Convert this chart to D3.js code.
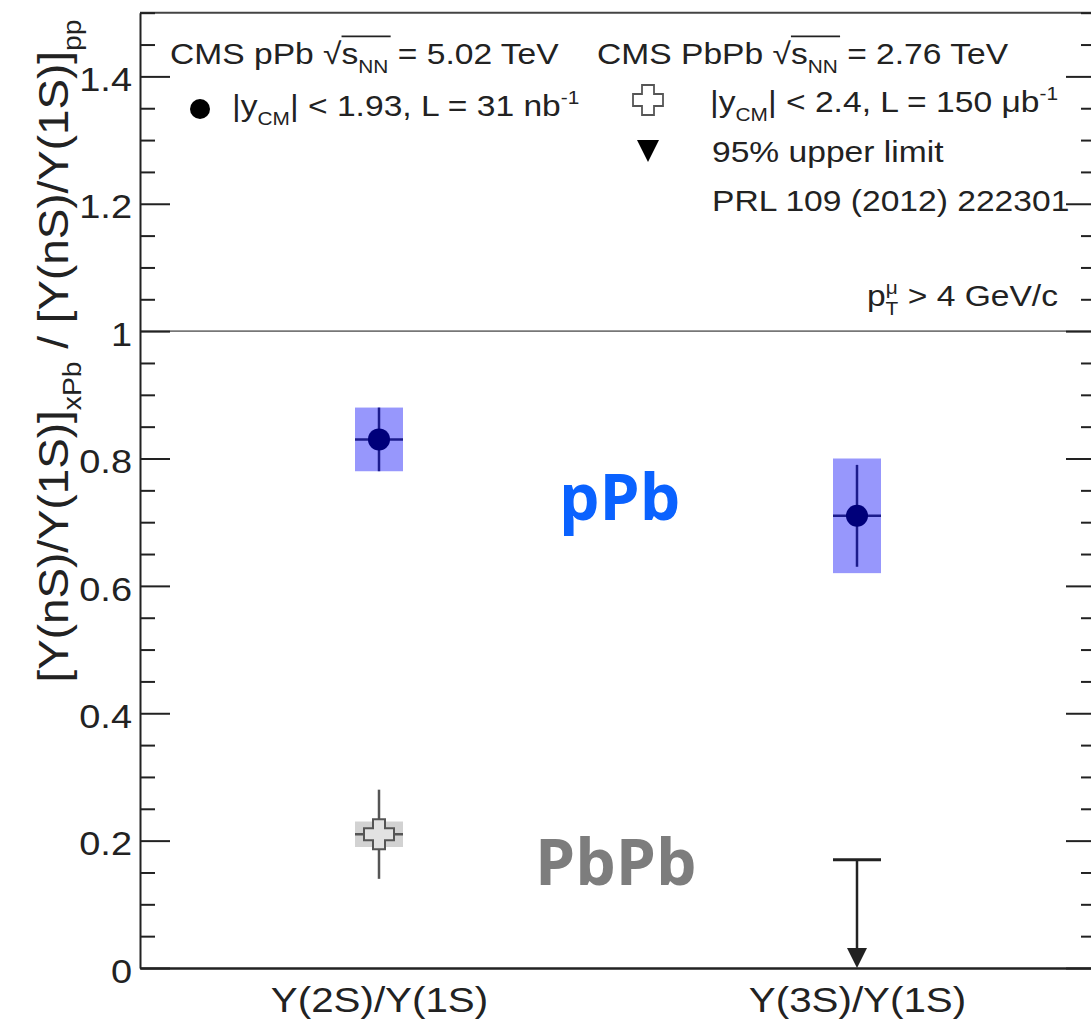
<!DOCTYPE html>
<html><head><meta charset="utf-8">
<script src="https://cdn.jsdelivr.net/npm/d3@7"></script>
<style>
body{margin:0;background:#fff}
svg{display:block}
text{font-family:"Liberation Sans", Arial, Helvetica, sans-serif}
</style>
</head><body>
<svg id="c" width="1091" height="1023"></svg>
<script>
// ---------------- data ----------------
const categories = ["\u03A5(2S)/\u03A5(1S)", "\u03A5(3S)/\u03A5(1S)"];
const pPbValues   = [0.83, 0.71];
const pPbStatErr  = [0.05, 0.08];
const pPbSystErr  = [0.05, 0.09];
const PbPbValues  = [0.21, null];
const PbPbStatErr = [0.07, null];
const PbPbSystErr = [0.02, null];
const PbPbUpperLimit = [null, 0.17];
const yMajorTicks = [0, 0.2, 0.4, 0.6, 0.8, 1, 1.2, 1.4];
const yTickLabels = ["0", "0.2", "0.4", "0.6", "0.8", "1", "1.2", "1.4"];
const yMinorStep = 0.05;
const yMax = 1.5;
const referenceLine = 1;

// ---------------- layout ----------------
const L = 140, R = 1096, T = 12.7, B = 968;
const svg = d3.select("#c");
const y = d3.scaleLinear().domain([0, yMax]).range([B, T]);
const x = d3.scalePoint().domain(categories).range([L, R]).padding(0.5);
const yMinorTicks = d3.range(0, yMax + 1e-9, yMinorStep).filter(v => !yMajorTicks.some(m => Math.abs(m - v) < 1e-6));
const ink = "#222";

// rich text helper
function rich(parent, px, py, segs, opt) {
  const size = opt.size;
  let tr = `translate(${px},${py})`;
  if (opt.rotate) tr += ` rotate(${opt.rotate})`;
  tr += ` scale(${opt.sx || 1},${opt.sy || 1})`;
  const g = parent.append("g").attr("transform", tr);
  const t = g.append("text").attr("font-size", size).attr("fill", opt.fill || ink)
    .attr("text-anchor", opt.anchor || "start");
  let shift = 0;
  const ols = [];
  segs.forEach(s => {
    const seg = typeof s === "string" ? {t: s} : s;
    const target = seg.k === "sub" ? 0.3 * size : seg.k === "sup" ? -0.4 * size : 0;
    const fs = seg.k ? 0.62 * size : size;
    const ts = t.append("tspan").attr("font-size", fs).attr("dy", target - shift).text(seg.t);
    if (seg.dx) ts.attr("dx", seg.dx * size);
    if (seg.ol) ols.push(ts.node());
    shift = target;
  });
  if (ols.length) {
    const a = ols[0], b = ols[ols.length - 1];
    const x0 = a.getStartPositionOfChar(0).x;
    const x1 = b.getEndPositionOfChar(b.getNumberOfChars() - 1).x;
    g.append("line").attr("x1", x0).attr("x2", x1 + 2)
      .attr("y1", -0.92 * size).attr("y2", -0.92 * size)
      .attr("stroke", opt.fill || ink).attr("stroke-width", 1.6);
  }
  return g;
}

// ---------------- frame & axes ----------------
svg.append("line").attr("x1", L).attr("x2", R).attr("y1", T).attr("y2", T)
  .attr("stroke", "#444").attr("stroke-width", 2);

svg.append("line").attr("x1", L).attr("x2", R).attr("y1", y(referenceLine)).attr("y2", y(referenceLine))
  .attr("stroke", "#777").attr("stroke-width", 1.6);

const leftMajor = svg.append("g").attr("transform", `translate(${L},0)`)
  .call(d3.axisLeft(y).tickValues(yMajorTicks).tickSize(-30).tickSizeOuter(0).tickPadding(8)
    .tickFormat((d, i) => yTickLabels[i]));
leftMajor.select(".domain").attr("stroke", ink).attr("stroke-width", 2);
leftMajor.selectAll(".tick line").attr("stroke", ink).attr("stroke-width", 2);
leftMajor.selectAll(".tick text").attr("font-size", 33).attr("fill", ink)
  .attr("x", -8 / 1.15).attr("dy", "0.43em").attr("transform", "scale(1.15,1)");

const leftMinor = svg.append("g").attr("transform", `translate(${L},0)`)
  .call(d3.axisLeft(y).tickValues(yMinorTicks).tickSize(-15).tickSizeOuter(0).tickFormat(""));
leftMinor.select(".domain").remove();
leftMinor.selectAll(".tick line").attr("stroke", ink).attr("stroke-width", 2);

const rightMajor = svg.append("g").attr("transform", `translate(${R},0)`)
  .call(d3.axisRight(y).tickValues(yMajorTicks).tickSize(-30).tickSizeOuter(0).tickFormat(""));
rightMajor.select(".domain").attr("stroke", ink).attr("stroke-width", 2);
rightMajor.selectAll(".tick line").attr("stroke", ink).attr("stroke-width", 2);
const rightMinor = svg.append("g").attr("transform", `translate(${R},0)`)
  .call(d3.axisRight(y).tickValues(yMinorTicks).tickSize(-15).tickSizeOuter(0).tickFormat(""));
rightMinor.select(".domain").remove();
rightMinor.selectAll(".tick line").attr("stroke", ink).attr("stroke-width", 2);

const bottom = svg.append("g").attr("transform", `translate(0,${B})`)
  .call(d3.axisBottom(x).tickSize(0).tickSizeOuter(0).tickPadding(18));
bottom.select(".domain").attr("stroke", ink).attr("stroke-width", 2.5);
bottom.selectAll(".tick text").attr("font-size", 36).attr("fill", ink)
  .attr("transform", "scale(1.12,1)");

// y axis title
rich(svg, 68, 351, [
  "[\u03A5(nS)/\u03A5(1S)]", {t: "xPb", k: "sub"}, {t: " / [\u03A5(nS)/\u03A5(1S)]"}, {t: "pp", k: "sub"}
], {size: 42, rotate: -90, anchor: "middle", sx: 1.09, sy: 1.0});

// ---------------- data marks ----------------
const hw = 24;
const pPbIdx = d3.range(categories.length).filter(i => pPbValues[i] != null);
const gp = svg.append("g");
gp.selectAll("rect.syst").data(pPbIdx).join("rect")
  .attr("x", i => x(categories[i]) - hw).attr("width", 2 * hw)
  .attr("y", i => y(pPbValues[i] + pPbSystErr[i]))
  .attr("height", i => y(pPbValues[i] - pPbSystErr[i]) - y(pPbValues[i] + pPbSystErr[i]))
  .attr("fill", "#9797fc");
gp.selectAll("line.v").data(pPbIdx).join("line")
  .attr("x1", i => x(categories[i])).attr("x2", i => x(categories[i]))
  .attr("y1", i => y(pPbValues[i] - pPbStatErr[i])).attr("y2", i => y(pPbValues[i] + pPbStatErr[i]))
  .attr("stroke", "#1c1c8c").attr("stroke-width", 2.5);
gp.selectAll("line.h").data(pPbIdx).join("line")
  .attr("x1", i => x(categories[i]) - hw).attr("x2", i => x(categories[i]) + hw)
  .attr("y1", i => y(pPbValues[i])).attr("y2", i => y(pPbValues[i]))
  .attr("stroke", "#1c1c8c").attr("stroke-width", 2.5);
gp.selectAll("circle").data(pPbIdx).join("circle")
  .attr("cx", i => x(categories[i])).attr("cy", i => y(pPbValues[i])).attr("r", 11)
  .attr("fill", "#00007a");

const crossPath = (a, w) => `M${-w},${-a}H${w}V${-w}H${a}V${w}H${w}V${a}H${-w}V${w}H${-a}V${-w}H${-w}Z`;

const PbIdx = d3.range(categories.length).filter(i => PbPbValues[i] != null);
const gb = svg.append("g");
gb.selectAll("rect").data(PbIdx).join("rect")
  .attr("x", i => x(categories[i]) - hw).attr("width", 2 * hw)
  .attr("y", i => y(PbPbValues[i] + PbPbSystErr[i]))
  .attr("height", i => y(PbPbValues[i] - PbPbSystErr[i]) - y(PbPbValues[i] + PbPbSystErr[i]))
  .attr("fill", "#d2d2d2");
gb.selectAll("line.v").data(PbIdx).join("line")
  .attr("x1", i => x(categories[i])).attr("x2", i => x(categories[i]))
  .attr("y1", i => y(PbPbValues[i] - PbPbStatErr[i])).attr("y2", i => y(PbPbValues[i] + PbPbStatErr[i]))
  .attr("stroke", "#555").attr("stroke-width", 2.5);
gb.selectAll("line.h").data(PbIdx).join("line")
  .attr("x1", i => x(categories[i]) - hw).attr("x2", i => x(categories[i]) + hw)
  .attr("y1", i => y(PbPbValues[i])).attr("y2", i => y(PbPbValues[i]))
  .attr("stroke", "#555").attr("stroke-width", 2.5);
gb.selectAll("path").data(PbIdx).join("path")
  .attr("transform", i => `translate(${x(categories[i])},${y(PbPbValues[i])})`)
  .attr("d", crossPath(15, 6)).attr("fill", "#e2e2e2").attr("stroke", "#555").attr("stroke-width", 2);

const ulIdx = d3.range(categories.length).filter(i => PbPbUpperLimit[i] != null);
const gu = svg.append("g");
gu.selectAll("line.bar").data(ulIdx).join("line")
  .attr("x1", i => x(categories[i]) - hw).attr("x2", i => x(categories[i]) + hw)
  .attr("y1", i => y(PbPbUpperLimit[i])).attr("y2", i => y(PbPbUpperLimit[i]))
  .attr("stroke", ink).attr("stroke-width", 3);
gu.selectAll("line.stem").data(ulIdx).join("line")
  .attr("x1", i => x(categories[i])).attr("x2", i => x(categories[i]))
  .attr("y1", i => y(PbPbUpperLimit[i])).attr("y2", y(0) - 16)
  .attr("stroke", ink).attr("stroke-width", 2.5);
gu.selectAll("path").data(ulIdx).join("path")
  .attr("transform", i => `translate(${x(categories[i])},${y(0)})`)
  .attr("d", "M-10,-20L10,-20L0,0Z").attr("fill", ink);

// ---------------- legend ----------------
const lg = svg.append("g");
const LS = 30, LX = 1.12;
rich(lg, 170, 64, ["CMS pPb ", {t: "\u221A"}, {t: "s", ol: true}, {t: "NN", k: "sub", ol: true}, {t: " = 5.02 TeV"}],
  {size: LS, sx: LX});
lg.append("circle").attr("cx", 200).attr("cy", 109).attr("r", 10).attr("fill", "#000");
rich(lg, 232, 116, ["|y", {t: "CM", k: "sub"}, {t: "| < 1.93, L = 31 nb"}, {t: "-1", k: "sup"}],
  {size: LS, sx: LX});

rich(lg, 597, 64, ["CMS PbPb ", {t: "\u221A"}, {t: "s", ol: true}, {t: "NN", k: "sub", ol: true}, {t: " = 2.76 TeV"}],
  {size: LS, sx: LX});
lg.append("path").attr("transform", "translate(648,100)").attr("d", crossPath(15, 6))
  .attr("fill", "#fff").attr("stroke", "#555").attr("stroke-width", 1.8);
rich(lg, 710, 112, ["|y", {t: "CM", k: "sub"}, {t: "| < 2.4, L = 150 \u03BCb"}, {t: "-1", k: "sup"}],
  {size: LS, sx: LX});
lg.append("path").attr("transform", "translate(648,151)").attr("d", "M-11,-11L11,-11L0,11Z").attr("fill", "#000");
rich(lg, 712, 162, ["95% upper limit"], {size: LS, sx: LX});
rich(lg, 712, 211, ["PRL 109 (2012) 222301"], {size: LS, sx: LX});
rich(lg, 1058, 306, ["p", {t: "\u03BC", k: "sup"}, {t: "T", k: "sub", dx: -0.36}, {t: " > 4 GeV/c"}],
  {size: LS, sx: LX, anchor: "end"});

// ---------------- annotations ----------------
svg.append("text").attr("x", 559).attr("y", 520)
  .style("font-family", "'Open Sans', sans-serif").style("font-weight", 700)
  .attr("font-size", 64).attr("fill", "#0a62ff").text("pPb");
svg.append("text").attr("x", 535).attr("y", 885)
  .style("font-family", "'Open Sans', sans-serif").style("font-weight", 700)
  .attr("font-size", 64).attr("fill", "#7d7d7d").text("PbPb");
</script>
</body></html>
